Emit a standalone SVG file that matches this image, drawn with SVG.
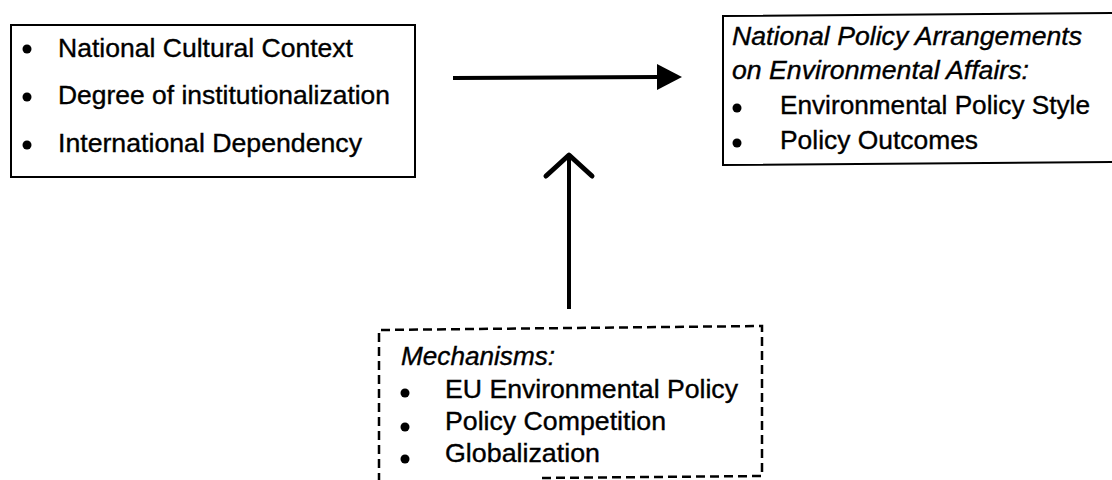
<svg xmlns="http://www.w3.org/2000/svg" width="1112" height="480" viewBox="0 0 1112 480">
  <style>
    .box { fill: none; stroke: #000; stroke-width: 2; }
    .dash { fill: none; stroke: #000; stroke-width: 2.5; stroke-dasharray: 9 5; }
    .t { font-family: "Liberation Sans", Arial, sans-serif; font-size: 25px; fill: #000; stroke: #000; stroke-width: 0.35; }
    .i { font-style: italic; }
    .dot { fill: #000; }
    .conn { stroke: #000; stroke-width: 4; fill: none; }
  </style>

  <rect width="1112" height="480" fill="#fff"/>

  <!-- Left factors box -->
  <g id="factors">
    <rect class="box" x="11" y="25" width="404" height="152"/>
    <circle class="dot" cx="27" cy="49" r="4.5"/>
    <circle class="dot" cx="27" cy="97" r="4.5"/>
    <circle class="dot" cx="27" cy="145" r="4.5"/>
    <text class="t" x="58" y="57" textLength="295" lengthAdjust="spacingAndGlyphs">National Cultural Context</text>
    <text class="t" x="58" y="104" textLength="332" lengthAdjust="spacingAndGlyphs">Degree of institutionalization</text>
    <text class="t" x="58" y="152" textLength="304" lengthAdjust="spacingAndGlyphs">International Dependency</text>
  </g>

  <!-- Right outcome box (runs off the right edge) -->
  <g id="arrangements">
    <path class="box" d="M1116,13 L723,16 L723,165 L1116,162"/>
    <text class="t i" x="732" y="45" textLength="350" lengthAdjust="spacingAndGlyphs">National Policy Arrangements</text>
    <text class="t i" x="732" y="79" textLength="297" lengthAdjust="spacingAndGlyphs">on Environmental Affairs:</text>
    <circle class="dot" cx="737" cy="108" r="4.5"/>
    <circle class="dot" cx="737" cy="143" r="4.5"/>
    <text class="t" x="780" y="114" textLength="310" lengthAdjust="spacingAndGlyphs">Environmental Policy Style</text>
    <text class="t" x="780" y="149" textLength="198" lengthAdjust="spacingAndGlyphs">Policy Outcomes</text>
  </g>

  <!-- Bottom mechanisms box (dashed, bottom edge partly cut) -->
  <g id="mechanisms">
    <path class="dash" d="M379,482 L379,330 L762,326 L762,476 L540,478"/>
    <text class="t i" x="401" y="365" textLength="154" lengthAdjust="spacingAndGlyphs">Mechanisms:</text>
    <circle class="dot" cx="405" cy="393" r="4.5"/>
    <circle class="dot" cx="405" cy="427" r="4.5"/>
    <circle class="dot" cx="405" cy="459" r="4.5"/>
    <text class="t" x="445" y="398" textLength="293" lengthAdjust="spacingAndGlyphs">EU Environmental Policy</text>
    <text class="t" x="445" y="430" textLength="221" lengthAdjust="spacingAndGlyphs">Policy Competition</text>
    <text class="t" x="445" y="462" textLength="155" lengthAdjust="spacingAndGlyphs">Globalization</text>
  </g>

  <!-- Connectors -->
  <g id="connectors">
    <line class="conn" x1="453" y1="78" x2="660" y2="77"/>
    <polygon points="657,64 682,77 657,90" fill="#000"/>
    <line class="conn" x1="569" y1="309" x2="569" y2="157"/>
    <polyline points="546,176 569,155 592,176" fill="none" stroke="#000" stroke-width="5" stroke-linecap="round" stroke-linejoin="round"/>
  </g>
</svg>
